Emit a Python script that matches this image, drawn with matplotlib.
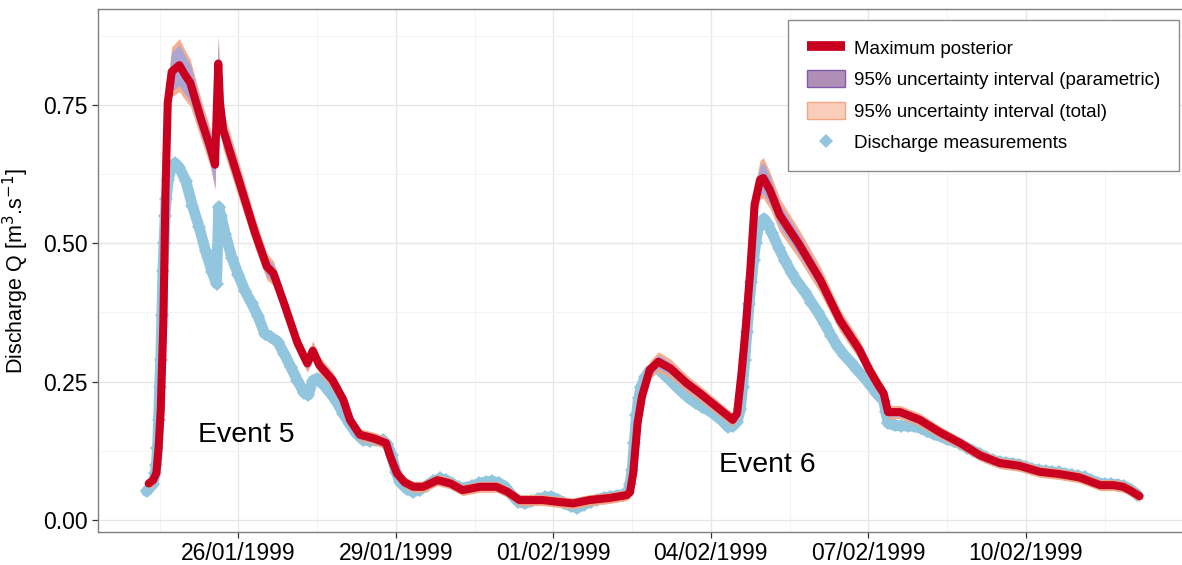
import numpy as np
import pandas as pd
import matplotlib.pyplot as plt
import matplotlib.dates as mdates
from matplotlib.lines import Line2D
from matplotlib.patches import Patch

plt.rcParams['font.family'] = ['Liberation Sans', 'DejaVu Sans']

# all times are hours after 24/01/1999 00:00
t0 = pd.Timestamp('1999-01-24')

# maximum posterior simulation (m3/s)
sim_hours = [7, 9, 10.5, 11.5, 12.5, 13.7, 14.7, 15.7, 17.5, 21, 23.5, 26, 31, 35, 37.3,
             38.8, 39.6, 41, 48.5, 55.5, 61, 64, 69, 75, 79.5, 82, 85, 91, 96, 99,
             103.5, 109.5, 115.5, 117.5, 120.5, 124, 128, 132.5, 139, 145, 150.5,
             158.5, 166, 171, 176.5, 187, 193.5, 201, 208.5, 218, 225.5, 227, 228.5,
             230.5, 232.5, 236, 240, 245.5, 253, 259, 266.5, 274, 276, 278, 280, 282,
             284, 286.5, 288, 291, 295.5, 304.5, 314, 323, 327.5, 332, 336.5, 340.5,
             343, 345, 350.5, 359.5, 368.5, 378, 387, 396, 405, 414.5, 423.5, 432.5,
             442, 448, 452.5, 455.5, 460]
sim_q = [0.066, 0.072, 0.085, 0.13, 0.20, 0.36, 0.60, 0.754, 0.81, 0.822, 0.805, 0.79,
         0.723, 0.675, 0.642, 0.825, 0.754, 0.705, 0.61, 0.52, 0.458, 0.446, 0.39,
         0.32, 0.283, 0.306, 0.28, 0.253, 0.217, 0.181, 0.154, 0.148, 0.139, 0.114,
         0.084, 0.068, 0.060, 0.060, 0.072, 0.066, 0.054, 0.060, 0.060, 0.051, 0.036,
         0.036, 0.033, 0.030, 0.036, 0.040, 0.045, 0.050, 0.085, 0.175, 0.223, 0.271,
         0.286, 0.274, 0.247, 0.229, 0.205, 0.181, 0.193, 0.265, 0.35, 0.45, 0.57,
         0.615, 0.618, 0.596, 0.551, 0.497, 0.434, 0.361, 0.334, 0.307, 0.271, 0.244,
         0.229, 0.195, 0.195, 0.181, 0.159, 0.139, 0.117, 0.103, 0.098, 0.087, 0.083,
         0.077, 0.063, 0.063, 0.060, 0.054, 0.043]

# half widths of the 95% intervals around the simulation
total_hw = [0.010, 0.010, 0.010, 0.012, 0.014, 0.020, 0.030, 0.040, 0.045, 0.048,
            0.045, 0.042, 0.036, 0.034, 0.045, 0.052, 0.040, 0.035, 0.032, 0.027,
            0.024, 0.022, 0.020, 0.018, 0.016, 0.018, 0.016, 0.015, 0.014, 0.012,
            0.011, 0.011, 0.011, 0.010, 0.010, 0.010, 0.010, 0.010, 0.010, 0.010,
            0.010, 0.010, 0.010, 0.010, 0.010, 0.010, 0.010, 0.010, 0.010, 0.010,
            0.010, 0.010, 0.010, 0.011, 0.014, 0.016, 0.018, 0.017, 0.015, 0.014,
            0.013, 0.012, 0.012, 0.015, 0.020, 0.025, 0.030, 0.035, 0.037, 0.033,
            0.030, 0.027, 0.024, 0.020, 0.019, 0.018, 0.016, 0.015, 0.014, 0.012,
            0.012, 0.012, 0.011, 0.010, 0.010, 0.010, 0.010, 0.010, 0.010, 0.010,
            0.010, 0.010, 0.010, 0.010, 0.010]
param_hw = [0.005, 0.005, 0.005, 0.008, 0.010, 0.014, 0.022, 0.030, 0.035, 0.037,
            0.035, 0.033, 0.028, 0.027, 0.042, 0.045, 0.032, 0.027, 0.024, 0.019,
            0.017, 0.016, 0.014, 0.012, 0.011, 0.012, 0.011, 0.010, 0.010, 0.008,
            0.008, 0.008, 0.008, 0.007, 0.006, 0.005, 0.005, 0.005, 0.005, 0.005,
            0.005, 0.005, 0.005, 0.005, 0.005, 0.005, 0.005, 0.005, 0.005, 0.005,
            0.005, 0.005, 0.005, 0.008, 0.010, 0.011, 0.012, 0.011, 0.010, 0.010,
            0.009, 0.008, 0.008, 0.010, 0.014, 0.018, 0.022, 0.026, 0.028, 0.025,
            0.021, 0.019, 0.016, 0.014, 0.013, 0.012, 0.011, 0.010, 0.010, 0.008,
            0.008, 0.008, 0.008, 0.007, 0.007, 0.006, 0.005, 0.005, 0.005, 0.005,
            0.005, 0.005, 0.005, 0.005, 0.005]

# gauged discharge
obs_hours = [6, 9, 10, 10.5, 11, 11.5, 12, 12.5, 13, 13.5, 14, 14.5, 15, 16, 17, 18,
             19, 21, 24, 27, 30, 33, 36, 38, 39, 40, 42, 45, 48, 51, 54, 57, 60, 63,
             66, 69, 72, 75, 78, 80, 82, 84, 87, 90, 93, 96, 99, 102, 105, 108, 111,
             114, 116, 118, 120, 122, 125, 128, 131, 134, 137, 140, 143, 146, 149,
             152, 155, 158, 161, 164, 167, 170, 173, 176, 179, 182, 185, 188, 191,
             194, 197, 200, 203, 206, 209, 212, 215, 218, 221, 224, 226, 227, 228,
             229, 230, 231, 232, 234, 236, 238, 240, 242, 245, 248, 251, 254, 257,
             260, 263, 266, 269, 272, 274, 276, 277.5, 278.5, 279.5, 280.5, 281.5,
             282.5, 283.5, 284.5, 285.5, 287, 288.5, 290, 292, 295, 298, 301, 304,
             307, 310, 313, 316, 319, 322, 325, 328, 331, 334, 337, 340, 343, 344,
             345, 348, 351, 354, 357, 360, 363, 366, 369, 372, 375, 378, 381, 384,
             387, 390, 393, 396, 399, 402, 405, 408, 411, 414, 417, 420, 423, 426,
             429, 432, 435, 438, 441, 444, 447, 450, 453, 456, 459]
obs_q = [0.052, 0.065, 0.085, 0.10, 0.13, 0.18, 0.24, 0.29, 0.37, 0.45, 0.50, 0.55,
         0.58, 0.615, 0.632, 0.64, 0.645, 0.637, 0.612, 0.568, 0.530, 0.486, 0.448,
         0.427, 0.565, 0.55, 0.517, 0.474, 0.443, 0.414, 0.392, 0.368, 0.337, 0.330,
         0.322, 0.300, 0.276, 0.252, 0.230, 0.226, 0.252, 0.255, 0.244, 0.230, 0.213,
         0.192, 0.173, 0.156, 0.145, 0.143, 0.144, 0.144, 0.137, 0.118, 0.087, 0.068,
         0.056, 0.051, 0.055, 0.062, 0.070, 0.075, 0.072, 0.065, 0.059, 0.058, 0.062,
         0.066, 0.069, 0.070, 0.067, 0.060, 0.045, 0.033, 0.030, 0.034, 0.038, 0.041,
         0.042, 0.037, 0.030, 0.025, 0.022, 0.028, 0.033, 0.037, 0.040, 0.042, 0.044,
         0.046, 0.050, 0.065, 0.090, 0.14, 0.19, 0.22, 0.24, 0.258, 0.270, 0.276,
         0.273, 0.265, 0.254, 0.242, 0.231, 0.220, 0.212, 0.205, 0.198, 0.190, 0.180,
         0.168, 0.170, 0.178, 0.20, 0.24, 0.29, 0.34, 0.39, 0.43, 0.47, 0.50, 0.525,
         0.540, 0.544, 0.535, 0.518, 0.492, 0.468, 0.446, 0.428, 0.412, 0.393, 0.375,
         0.355, 0.333, 0.313, 0.298, 0.285, 0.271, 0.258, 0.243, 0.228, 0.215, 0.195,
         0.175, 0.171, 0.170, 0.170, 0.169, 0.166, 0.160, 0.155, 0.151, 0.146, 0.142,
         0.138, 0.131, 0.125, 0.119, 0.113, 0.108, 0.105, 0.103, 0.102, 0.100, 0.096,
         0.092, 0.090, 0.088, 0.087, 0.086, 0.084, 0.081, 0.079, 0.077, 0.072, 0.067,
         0.065, 0.065, 0.064, 0.061, 0.055, 0.046]

date_labels = ['26/01/1999', '29/01/1999', '01/02/1999', '04/02/1999',
               '07/02/1999', '10/02/1999']
q_ticks = [0.0, 0.25, 0.5, 0.75]

events = ['Event 5', 'Event 6']
event_hours = [29.5, 267.7]
event_q = [0.154, 0.099]

c_red = '#CA0020'
c_orange = '#F4A582'
c_blue = '#92C5DE'


def hnum(hours):
    return mdates.date2num(t0.to_pydatetime()) + np.asarray(hours, dtype=float) / 24.0


ts = hnum(sim_hours)
q = np.array(sim_q)
tw = np.array(total_hw)
pw = np.array(param_hw)

fig = plt.figure(figsize=(11.82, 5.65), dpi=100)
ax = fig.add_axes([0.0827, 0.0584, 0.9173, 0.9248])

# measurements: dense diamonds, a thick trace underneath keeps them joined
to = hnum(obs_hours)
ax.plot(to, obs_q, color=c_blue, lw=7.8, solid_joinstyle='round',
        solid_capstyle='round', zorder=2)
ax.plot(to, obs_q, ls='none', marker='D', ms=6.8, mew=0, color=c_blue, zorder=2)
ax.fill_between(ts, q - tw, q + tw, color=c_orange, alpha=0.9, lw=0, zorder=3)
ax.fill_between(ts, q - pw, q + pw, color='#ABA6D2', lw=0, zorder=4)
ax.plot(ts, q, color=c_red, lw=5.8, solid_joinstyle='round',
        solid_capstyle='round', zorder=5)

for lab, h, v in zip(events, event_hours, event_q):
    ax.text(hnum(h), v, lab, fontsize=20.5, ha='left', va='center', zorder=6)

# axes, ticks and grid
tick_pos = mdates.date2num(pd.to_datetime(date_labels, format='%d/%m/%Y').to_pydatetime())
minor_pos = np.concatenate([[tick_pos[0] - 1.5], tick_pos + 1.5])
ax.set_xticks(tick_pos)
ax.set_xticklabels(date_labels)
ax.set_xticks(minor_pos, minor=True)
ax.set_yticks(q_ticks)
ax.set_yticklabels(['%.2f' % v for v in q_ticks])
ax.set_yticks([0.125, 0.375, 0.625, 0.875], minor=True)
ax.set_xlim(hnum(-16.3), hnum(479.4))
ax.set_ylim(-0.0217, 0.9226)

ax.grid(which='major', color='#E6E6E6', lw=0.9)
ax.grid(which='minor', color='#F3F3F3', lw=0.6)
ax.set_axisbelow(True)
ax.tick_params(which='major', length=4, width=0.9, color='#333333',
               labelsize=16.5, pad=3)
ax.tick_params(which='minor', length=0)
for side in ['left', 'bottom', 'top']:
    ax.spines[side].set_color('#7F7F7F')
    ax.spines[side].set_linewidth(1.0)
ax.spines['right'].set_visible(False)

ax.set_ylabel('Discharge Q [m$^3$.s$^{-1}$]', fontsize=15.5, labelpad=9)

handles = [Line2D([], [], color=c_red, lw=7, solid_capstyle='butt'),
           Patch(facecolor='#B08EB6', edgecolor='#7E5BA8', lw=1.0),
           Patch(facecolor='#F9CDB9', edgecolor=c_orange, lw=1.0),
           Line2D([], [], ls='none', marker='D', ms=7, mew=0, color=c_blue)]
labels = ['Maximum posterior', '95% uncertainty interval (parametric)',
          '95% uncertainty interval (total)', 'Discharge measurements']
leg = ax.legend(handles, labels, loc='upper right', bbox_to_anchor=(0.9972, 0.98),
                borderaxespad=0, fontsize=13.5, handlelength=2.0, handleheight=1.0,
                handletextpad=0.5, labelspacing=0.68, borderpad=1.0,
                fancybox=False, framealpha=1)
leg.get_frame().set_edgecolor('#8C8C8C')
leg.get_frame().set_linewidth(1.0)

fig.savefig('out.png', dpi=100)
